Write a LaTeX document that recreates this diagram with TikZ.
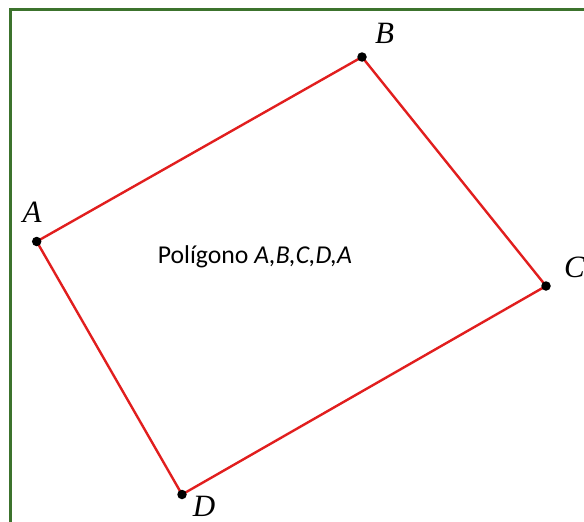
\documentclass[tikz,border=0pt]{standalone}
\usepackage{fontspec}
\setmainfont{Carlito}
\newfontfamily\labelfont{Liberation Serif}
\begin{document}
\begin{tikzpicture}[x=1pt,y=-1pt]
\useasboundingbox (0,0) rectangle (584,522);
\clip (0,0) rectangle (584,522);
\definecolor{frame}{RGB}{60,115,45}
\definecolor{edge}{RGB}{225,30,30}
\tikzset{
  vtx/.style={circle,fill=black,inner sep=0pt,minimum size=9.5pt},
  lbl/.style={font=\labelfont\itshape\fontsize{31}{31}\selectfont,inner sep=0pt},
  side/.style={draw=edge,line width=2.4pt}
}
\draw[draw=frame,line width=2.2pt] (10.5,9.5) rectangle (620,560);
\coordinate (A) at (36.7,241.5);
\coordinate (B) at (362,57);
\coordinate (C) at (546,286);
\coordinate (D) at (182,494.5);
\draw[side] (A) -- (B) -- (C) -- (D) -- cycle;
\node[vtx] (pA) at (A) {};
\node[vtx] (pB) at (B) {};
\node[vtx] (pC) at (C) {};
\node[vtx] (pD) at (D) {};
\node[lbl,anchor=base] (lA) at (32,222) {A};
\node[lbl,anchor=base] (lB) at (384.5,43) {B};
\node[lbl,anchor=base west] (lC) at (564,277) {C};
\node[lbl,anchor=base] (lD) at (204,516) {D};
\node[anchor=base,inner sep=0pt,font=\fontsize{25.7}{25.7}\selectfont] (t) at (255,263) {Polígono \textit{A,B,C,D,A}};
\end{tikzpicture}
\end{document}
